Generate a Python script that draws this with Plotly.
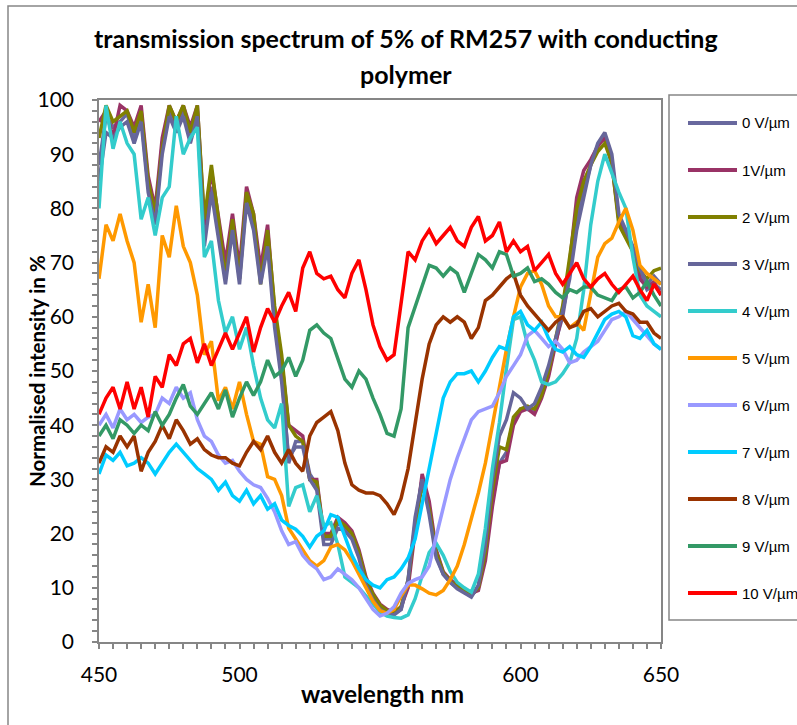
import plotly.graph_objects as go

# wavelength sampling (nm)
wavelength = [
    450, 452.5, 455, 457.5, 460, 462.5, 465, 467.5, 470, 472.5,
    475, 477.5, 480, 482.5, 485, 487.5, 490, 492.5, 495, 497.5,
    500, 502.5, 505, 507.5, 510, 512.5, 515, 517.5, 520, 522.5,
    525, 527.5, 530, 532.5, 535, 537.5, 540, 542.5, 545, 547.5,
    550, 552.5, 555, 557.5, 560, 562.5, 565, 567.5, 570, 572.5,
    575, 577.5, 580, 582.5, 585, 587.5, 590, 592.5, 595, 597.5,
    600, 602.5, 605, 607.5, 610, 612.5, 615, 617.5, 620, 622.5,
    625, 627.5, 630, 632.5, 635, 637.5, 640, 642.5, 645, 647.5,
    650,
]

# x tick labels (the 550 position sits under the axis title)
x_tickvals = [450, 500, 550, 600, 650]
x_ticktext = ["450", "500", "", "600", "650"]

# normalised intensity (%) per applied field
v0 = [88, 97, 95, 96, 97.5, 93, 97, 84, 78, 92, 98, 95, 98, 93, 98, 75,
      84, 76, 68, 77, 67, 82, 78, 67, 75, 60, 50, 33, 37, 37, 31, 29,
      19, 19, 22, 21, 20, 16, 11, 8.3, 6.5, 5.6, 5.2, 6, 11, 22, 30, 25,
      16, 12.5, 11, 10, 9.3, 8.5, 10, 17, 26, 33, 35, 41, 43, 43, 42.5, 45.5,
      49.5, 55.5, 60, 68, 78, 83, 88, 91.5, 93.5, 89, 78, 75.5, 72, 68, 65, 66,
      65]
v1 = [96, 98, 93, 99, 98, 95, 99, 86, 80, 93, 99, 96, 99, 95, 99, 77,
      87, 78, 70, 79, 69, 84, 79, 69, 77, 61, 52, 40, 39, 38, 30, 30,
      20, 20, 23, 22, 20.5, 17, 12, 9, 7, 6, 5.5, 6.5, 10, 21, 31, 26,
      17, 13, 11.5, 10.5, 9.8, 9, 9.5, 15, 25, 33, 33.5, 40, 42.5, 43, 42, 45,
      49, 55, 61, 70, 82, 87, 89, 91.5, 93, 88, 78, 76, 72.5, 67, 65.5, 66.5,
      64]
v2 = [93, 99, 96, 97, 98, 94, 98, 85, 79, 91, 99, 96, 99, 94, 99, 78,
      88, 78, 67, 78, 67, 83, 79, 66, 76, 62, 53, 40, 38, 37, 30, 29.5,
      19.5, 19.5, 22.5, 21.5, 20, 16.5, 11.5, 8.8, 6.8, 5.8, 5.3, 6.5, 11.5, 21.5, 29, 24.5,
      16.5, 12.8, 11.2, 10.2, 9.5, 8.8, 10, 16.5, 28, 36, 35.5, 41.5, 43, 43.5, 43, 45.5,
      50, 56, 62, 71, 80, 85, 88, 90.5, 92, 88.5, 77, 74.5, 72, 68.5, 67, 68.5,
      69]
v3 = [85, 94, 93, 95, 96, 92, 96, 83, 77, 90, 97, 94, 97, 92, 97, 73,
      83, 75, 66, 76, 66, 81, 76, 66, 73, 58, 48, 34, 36, 36, 30, 28,
      18, 18, 21, 20.5, 19, 15.5, 10.5, 7.8, 6, 5.2, 5, 6, 11.5, 23, 30, 23.5,
      15.5, 12.5, 11, 9.8, 9, 8.3, 10.5, 18, 30, 38, 41, 46, 45, 43, 44, 47,
      51, 56, 61, 67, 76, 82, 88, 92, 94, 90, 79, 76, 73, 69, 66, 67.5,
      66]
v4 = [80, 99, 91, 96, 92, 90, 78, 82, 75, 82, 84, 97, 90, 93, 95, 71,
      74, 63, 57, 60, 54, 58, 51, 45, 41, 39.5, 44, 25, 28.5, 29, 24, 27,
      21.5, 22, 18, 12, 11, 10, 8.5, 7, 5.5, 4.8, 4.5, 4.4, 5, 8, 12.5, 16.5,
      18.2, 16, 13, 11, 10, 9.2, 12.5, 21, 32, 40.5, 50.5, 59.5, 60, 55, 52, 48,
      47.5, 48, 49.5, 51.5, 56, 65, 77, 85, 90, 86.5, 83, 80, 71, 64, 62, 61,
      60]
v5 = [67, 77, 74, 79, 74, 70, 59, 66, 58, 75, 71, 80.5, 73, 70, 64, 53,
      55.5, 44.5, 47, 43, 48, 42, 37, 36.5, 30.5, 30, 27, 21, 19, 17, 15, 14,
      15, 17.5, 18, 17, 15, 12.5, 10, 7.5, 5.8, 5.3, 6, 8.5, 10.5, 10.5, 9.8, 9,
      8.7, 9.5, 11.5, 14, 18, 22.5, 27.5, 33, 40, 47, 54, 60, 65.5, 68, 68.5, 66,
      62, 60, 60, 58, 59, 57.5, 64, 71, 73.5, 74.5, 77.5, 80, 76, 69.5, 68, 67,
      66]
v6 = [40, 42, 39.5, 43, 41, 42, 40.5, 41.5, 42, 45, 44, 47, 45, 46, 41, 38,
      37, 34.5, 33, 33.5, 31.5, 30, 29, 28.5, 26.5, 24, 20.5, 18, 18.5, 16, 14.5, 13.5,
      11.5, 12, 13.5, 12.5, 11.5, 10, 8, 6, 4.8, 5.3, 6.5, 9, 10.8, 11.5, 12, 14,
      19.5, 24.5, 30, 34, 37.5, 41, 42.5, 43, 43.5, 46, 49, 51, 53, 56.5, 57.5, 56,
      54.5, 55.5, 54, 51.5, 52, 53.5, 54.5, 55.5, 57.5, 59.5, 60, 61, 59.5, 58, 56.5, 55,
      54]
v7 = [31, 34.5, 33.5, 35, 32.5, 33, 34, 33, 31, 33, 35, 36.5, 35, 33.5, 32, 31,
      30, 28, 29.5, 27, 26, 28, 25.5, 27, 24.5, 25.5, 22.5, 21.5, 20.8, 19.5, 17.5, 19.5,
      20.5, 23.5, 23, 19.5, 16, 13.5, 11.5, 10.5, 10, 11.5, 12, 13.5, 15.5, 19, 25.5, 32,
      39, 45, 48, 49.5, 49.5, 50, 48, 50, 52.5, 54.5, 54, 60, 61, 58.5, 57.5, 59,
      56, 54, 53.5, 54.5, 53, 52.5, 54.5, 57, 59.5, 60.5, 61, 60, 56.5, 56, 57.5, 55,
      54]
v8 = [33, 36, 35, 38, 36, 38, 31.5, 35, 37, 40, 37.5, 41, 39, 36.5, 37.5, 35.5,
      34.5, 34, 34, 33, 32.5, 35, 37, 35.5, 38, 35, 33, 35.5, 33, 31.5, 38, 40.5,
      41.5, 42.5, 39, 33, 29, 28, 27.5, 27.5, 27, 25.5, 23.5, 26.5, 32, 40, 48.5, 55,
      58.5, 60, 59, 60, 59, 56, 58, 63, 64, 65.5, 67, 68, 64, 62, 60.5, 59,
      57.5, 59, 60, 58, 58.5, 61, 61.5, 60, 61, 62, 62.5, 61, 60.5, 59, 59, 57,
      56]
v9 = [38, 40, 37.5, 41, 40, 38.5, 40, 39, 42.5, 40, 42, 45, 47.5, 43.5, 42, 44,
      46, 43, 46.5, 41.5, 45, 48, 45.5, 48, 52, 49, 50, 52.5, 49, 52, 57.5, 58.5,
      57, 56, 52, 48.5, 47, 50, 48.5, 45, 42, 38.5, 38, 43, 58, 62, 66, 69.5,
      69, 67.5, 69, 68, 64.5, 68, 71.5, 70.5, 69, 72, 71.5, 67.5, 68, 69, 66.5, 67,
      66, 64.5, 63.5, 65, 64.5, 65.5, 65.5, 64, 63.5, 63, 65, 65.5, 63.5, 64.5, 66.5, 64,
      62]
v10 = [42, 45, 47, 43, 48, 43, 47, 41.5, 49, 47, 53, 51, 55, 56, 51.5, 55,
       51, 54, 57, 54, 57, 60, 53.5, 58, 61.5, 59, 62, 64.5, 61, 69, 72, 68,
       67, 67.5, 65, 63.5, 68, 70.5, 65, 58.5, 54.5, 52, 53, 62, 72, 70.5, 74, 76,
       73.5, 75, 76.5, 74, 73, 76.5, 78.5, 74, 75, 77.5, 72, 74, 72, 73, 68.5, 70,
       71.5, 68, 66, 68, 70, 67, 65.5, 67, 68, 66, 64.5, 66, 67.5, 65, 63, 66,
       64]

series_names = ["0 V/µm", "1V/µm", "2 V/µm", "3 V/µm", "4 V/µm", "5 V/µm",
                "6 V/µm", "7 V/µm", "8 V/µm", "9 V/µm", "10 V/µm"]
series_values = [v0, v1, v2, v3, v4, v5, v6, v7, v8, v9, v10]
series_colors = ["#68689E", "#993366", "#808000", "#66669A", "#33CCCC", "#FF9900",
                 "#9999FF", "#00CCFF", "#993300", "#339966", "#FF0000"]

fig = go.Figure()
for name, vals, col in zip(series_names, series_values, series_colors):
    fig.add_trace(go.Scatter(
        x=wavelength, y=vals, mode="lines", name=name,
        line=dict(color=col, width=3.5),
        showlegend=False,
    ))

W, H = 797, 725
L, R, T, B = 99, 136, 100, 83
pw, ph = W - L - R, H - T - B


def px(x):
    # pixel column -> paper x
    return (x - L) / pw


def py(y):
    # pixel row -> paper y
    return (H - B - y) / ph


axis_gray = "#868686"
tick_font = dict(family="Lato", size=21, color="#000000")
title_font = dict(family="Lato", size=25, color="#000000")
xlabel_font = dict(family="Lato", size=24, color="#000000")
ylabel_font = dict(family="Lato", size=20.5, color="#000000")
legend_font = dict(family="Liberation Sans", size=15, color="#000000")

shapes = [
    # outer chart frame
    dict(type="rect", xref="paper", yref="paper",
         x0=px(8), x1=px(830), y0=py(760), y1=py(6),
         line=dict(color=axis_gray, width=1.5), fillcolor="rgba(0,0,0,0)",
         layer="below"),
    # legend frame
    dict(type="rect", xref="paper", yref="paper",
         x0=px(669), x1=px(830), y0=py(620), y1=py(95),
         line=dict(color=axis_gray, width=1.5), fillcolor="white"),
]

annotations = [
    dict(text="<b>transmission spectrum of 5% of RM257 with conducting</b>",
         xref="paper", yref="paper", x=px(406), y=py(38),
         xanchor="center", yanchor="middle", showarrow=False, font=title_font),
    dict(text="<b>polymer</b>",
         xref="paper", yref="paper", x=px(406), y=py(74),
         xanchor="center", yanchor="middle", showarrow=False, font=title_font),
    dict(text="<b>wavelength nm</b>",
         xref="paper", yref="paper", x=px(382), y=py(693),
         xanchor="center", yanchor="middle", showarrow=False, font=xlabel_font),
    dict(text="<b>Normalised intensity in %</b>",
         xref="paper", yref="paper", x=px(37), y=py(371), textangle=-90,
         xanchor="center", yanchor="middle", showarrow=False, font=ylabel_font),
]

# legend entries: a line sample plus the series name, one row per series
row0, row_step = 123, 47
for i, (name, col) in enumerate(zip(series_names, series_colors)):
    yc = row0 + row_step * i
    shapes.append(dict(type="line", xref="paper", yref="paper",
                       x0=px(688), x1=px(737), y0=py(yc), y1=py(yc),
                       line=dict(color=col, width=4)))
    annotations.append(dict(text=name, xref="paper", yref="paper",
                            x=px(740), y=py(yc), xanchor="left", yanchor="middle",
                            showarrow=False, font=legend_font))

fig.update_layout(
    width=W, height=H,
    margin=dict(l=L, r=R, t=T, b=B),
    paper_bgcolor="white", plot_bgcolor="white",
    showlegend=False,
    xaxis=dict(
        range=[450, 650], tickmode="array", tickvals=x_tickvals, ticktext=x_ticktext,
        showgrid=False, zeroline=False,
        showline=True, linecolor=axis_gray, linewidth=1.5, mirror=True,
        ticks="outside", ticklen=5, tickcolor=axis_gray, tickwidth=1.5,
        tickfont=tick_font, ticklabelstandoff=8,
        minor=dict(dtick=5, tick0=450, ticks="outside", ticklen=5,
                   tickcolor=axis_gray, tickwidth=1.5),
    ),
    yaxis=dict(
        range=[0, 100], dtick=10, tick0=0,
        showgrid=False, zeroline=False,
        showline=True, linecolor=axis_gray, linewidth=1.5, mirror=True,
        ticks="outside", ticklen=5, tickcolor=axis_gray, tickwidth=1.5,
        tickfont=tick_font, ticklabelstandoff=14,
        minor=dict(dtick=2, ticks="outside", ticklen=5, tickcolor=axis_gray, tickwidth=1.5),
    ),
    shapes=shapes,
    annotations=annotations,
)

fig.write_html("out.html")
